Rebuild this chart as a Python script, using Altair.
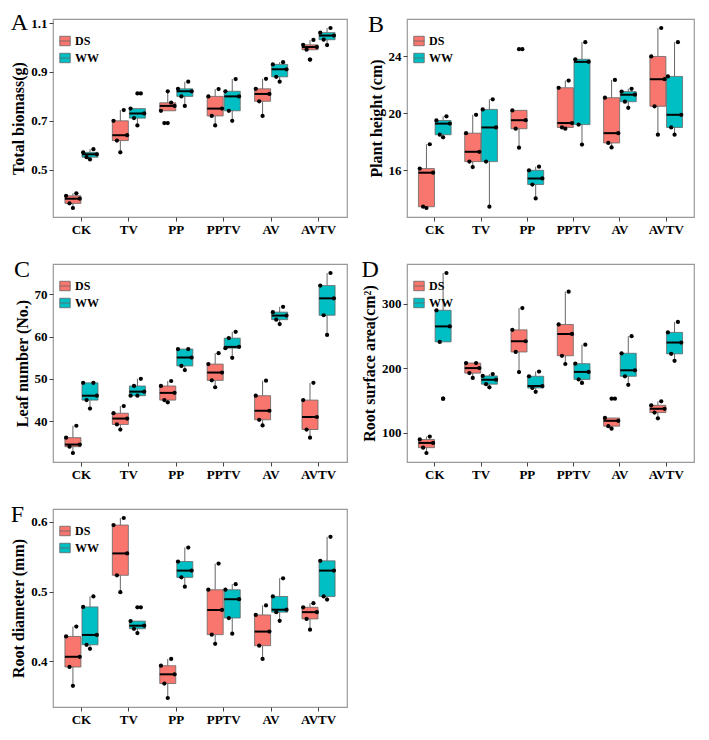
import altair as alt
import pandas as pd

categories = ["CK", "TV", "PP", "PPTV", "AV", "AVTV"]
treatments = ["DS", "WW"]
colors = ["#F8766D", "#00BFC4"]

# Panel A: Total biomass (g)
biomass_ds = [
    [0.393, 0.362, 0.343, 0.403, 0.381],
    [0.700, 0.619, 0.571, 0.744, 0.641],
    [0.741, 0.691, 0.821, 0.774, 0.761],
    [0.800, 0.720, 0.681, 0.830, 0.750],
    [0.831, 0.780, 0.720, 0.872, 0.810],
    [1.011, 0.991, 0.951, 1.031, 1.002],
]
biomass_ww = [
    [0.571, 0.551, 0.542, 0.584, 0.563],
    [0.750, 0.711, 0.681, 0.812, 0.730],
    [0.831, 0.800, 0.761, 0.860, 0.821],
    [0.821, 0.741, 0.700, 0.871, 0.800],
    [0.931, 0.880, 0.860, 0.940, 0.911],
    [1.061, 1.032, 1.010, 1.080, 1.049],
]
biomass_ticks = [0.5, 0.7, 0.9, 1.1]

# Panel B: Plant height (cm)
height_ds = [
    [16.12, 13.44, 13.35, 17.83, 15.83],
    [18.61, 16.61, 16.23, 19.90, 17.30],
    [20.21, 18.92, 17.59, 24.51, 19.52],
    [21.80, 19.01, 18.92, 22.31, 19.32],
    [21.10, 17.92, 17.61, 22.35, 18.61],
    [24.00, 20.50, 18.50, 26.00, 22.40],
]
height_ww = [
    [19.50, 18.50, 18.32, 19.79, 19.28],
    [20.28, 16.61, 13.44, 20.99, 19.01],
    [16.00, 15.00, 14.02, 16.25, 15.43],
    [23.80, 19.21, 17.81, 25.00, 23.62],
    [21.53, 20.82, 20.39, 21.73, 21.31],
    [22.60, 19.01, 18.50, 25.00, 19.90],
]
height_ticks = [16, 20, 24]

# Panel C: Leaf number (No.)
leaf_ds = [
    [36.07, 33.93, 32.44, 38.89, 34.44],
    [41.85, 39.19, 38.00, 43.56, 40.59],
    [48.30, 44.96, 44.44, 49.48, 46.67],
    [53.48, 49.63, 48.00, 56.07, 51.48],
    [46.00, 40.30, 38.96, 49.56, 42.44],
    [44.96, 38.00, 36.07, 49.04, 40.96],
]
leaf_ww = [
    [49.04, 44.96, 42.96, 49.04, 46.00],
    [46.00, 48.30, 46.00, 50.00, 46.96],
    [57.04, 53.04, 52.07, 57.04, 55.04],
    [57.26, 59.63, 54.96, 61.11, 57.56],
    [65.78, 64.00, 62.96, 67.04, 64.96],
    [72.07, 65.04, 60.37, 75.04, 69.04],
]
leaf_ticks = [40, 50, 60, 70]

# Panel D: Root surface area (cm2)
area_ds = [
    [89.2, 76.4, 68.1, 93.6, 83.8],
    [208.1, 192.4, 185.0, 208.1, 200.2],
    [259.7, 225.3, 194.1, 293.6, 242.0],
    [268.1, 219.4, 206.6, 319.2, 253.3],
    [122.6, 109.8, 105.9, 152.6, 118.2],
    [142.3, 131.0, 122.1, 148.6, 136.9],
]
area_ww = [
    [290.2, 241.0, 152.6, 348.2, 265.1],
    [188.0, 175.2, 170.3, 190.9, 182.1],
    [187.5, 169.3, 163.4, 194.9, 172.2],
    [207.1, 182.6, 177.1, 236.6, 194.3],
    [223.3, 187.5, 174.2, 249.9, 196.8],
    [255.8, 222.4, 211.5, 272.0, 240.0],
]
area_ticks = [100, 200, 300]

# Panel F: Root diameter (mm)
diameter_ds = [
    [0.4357, 0.3920, 0.3650, 0.4498, 0.4066],
    [0.5952, 0.5233, 0.4991, 0.6053, 0.5546],
    [0.3938, 0.3683, 0.3476, 0.4035, 0.3815],
    [0.5026, 0.4383, 0.4251, 0.5400, 0.4736],
    [0.4665, 0.4225, 0.4035, 0.4802, 0.4427],
    [0.4775, 0.4608, 0.4454, 0.4833, 0.4705],
]
diameter_ww = [
    [0.4780, 0.4238, 0.4180, 0.4930, 0.4379],
    [0.4577, 0.4467, 0.4405, 0.4775, 0.4511],
    [0.5430, 0.5203, 0.5070, 0.5630, 0.5300],
    [0.5026, 0.4621, 0.4396, 0.5106, 0.4890],
    [0.4930, 0.4705, 0.4581, 0.5190, 0.4740],
    [0.5440, 0.4930, 0.4885, 0.5784, 0.5300],
]
diameter_ticks = [0.4, 0.5, 0.6]

SERIF = "Liberation Serif"
N_PTS = 5
slots = [f"{t}{i}" for t in treatments for i in range(N_PTS)]


def panel(vals_ds, vals_ww, ytitle, letter, ticks, fmt, width, height):
    rows = []
    for ci, cat in enumerate(categories):
        for t, vals in (("DS", vals_ds[ci]), ("WW", vals_ww[ci])):
            for i, v in enumerate(vals):
                rows.append({"cat": cat, "treat": t, "slot": f"{t}{i}", "value": v})
    df = pd.DataFrame(rows)
    lo, hi = df["value"].min(), df["value"].max()
    pad = (hi - lo) * 0.05
    yscale = alt.Scale(domain=[lo - pad, hi + pad], nice=False, zero=False)
    xenc = alt.X(
        "cat:N",
        sort=categories,
        scale=alt.Scale(paddingInner=0.28, paddingOuter=0.24),
        axis=alt.Axis(title=None, labelAngle=0),
    )
    yenc = alt.Y("value:Q", scale=yscale,
                 axis=alt.Axis(title=ytitle, values=ticks, format=fmt))
    box = alt.Chart(df).mark_boxplot(
        size=16,
        extent=1.5,
        opacity=1,
        box={"stroke": "#666666", "strokeWidth": 0.8},
        median={"color": "black", "thickness": 2},
        rule={"color": "#666666", "strokeWidth": 1},
        outliers={"color": "black", "fill": "black", "filled": True,
                  "size": 18, "opacity": 1},
    ).encode(
        x=xenc,
        xOffset=alt.XOffset("treat:N", sort=treatments),
        y=yenc,
        color=alt.Color(
            "treat:N",
            scale=alt.Scale(domain=treatments, range=colors),
            legend=alt.Legend(
                title=None, orient="none", legendX=6, legendY=16,
                labelFont=SERIF, labelFontWeight="bold", labelFontSize=12,
                symbolType="M-1,-0.9H1V0.9H-1Z M-1,0H1",
                symbolSize=110, symbolStrokeColor="#666666",
                symbolStrokeWidth=0.8, rowPadding=3, labelOffset=4,
            ),
        ),
    )
    pts = alt.Chart(df).mark_circle(color="black", size=18, opacity=1).encode(
        x=xenc,
        xOffset=alt.XOffset("slot:N", sort=slots,
                            scale=alt.Scale(domain=slots)),
        y=yenc,
    )
    return (
        alt.layer(box, pts)
        .resolve_scale(xOffset="independent")
        .properties(
            width=width,
            height=height,
            title=alt.TitleParams(
                letter, anchor="start", frame="bounds", orient="top",
                offset=-18, fontSize=24, font=SERIF,
                fontWeight="normal", color="black",
            ),
        )
    )


W1, W2, H = 294, 287, 198
pA = panel(biomass_ds, biomass_ww, "Total biomass(g)", "A", biomass_ticks, ".1f", W1, H)
pB = panel(height_ds, height_ww, "Plant height (cm)", "B", height_ticks, "d", W2, H)
pC = panel(leaf_ds, leaf_ww, "Leaf number (No.)", "C", leaf_ticks, "d", W1, H)
pD = panel(area_ds, area_ww, "Root surface area(cm²)", "D", area_ticks, "d", W2, H)
pF = panel(diameter_ds, diameter_ww, "Root diameter (mm)", "F", diameter_ticks, ".1f", W1, H)

chart = (
    alt.concat(pA, pB, pC, pD, pF, columns=2, spacing={"row": 20, "column": 12})
    .resolve_scale(color="independent")
    .properties(padding={"left": 2, "top": 2, "right": 2, "bottom": 2})
    .configure_view(stroke="#999999", strokeWidth=1.2)
    .configure_axis(
        domain=False, grid=False,
        labelFont=SERIF, labelFontWeight="bold", labelFontSize=13,
        labelColor="black", labelPadding=2,
        titleFont=SERIF, titleFontWeight="bold", titleFontSize=16,
        titleColor="black", titlePadding=4,
        tickColor="#444444", tickSize=4, tickWidth=1,
    )
)

chart.save("out.html", embed_options={"renderer": "svg", "actions": False})
